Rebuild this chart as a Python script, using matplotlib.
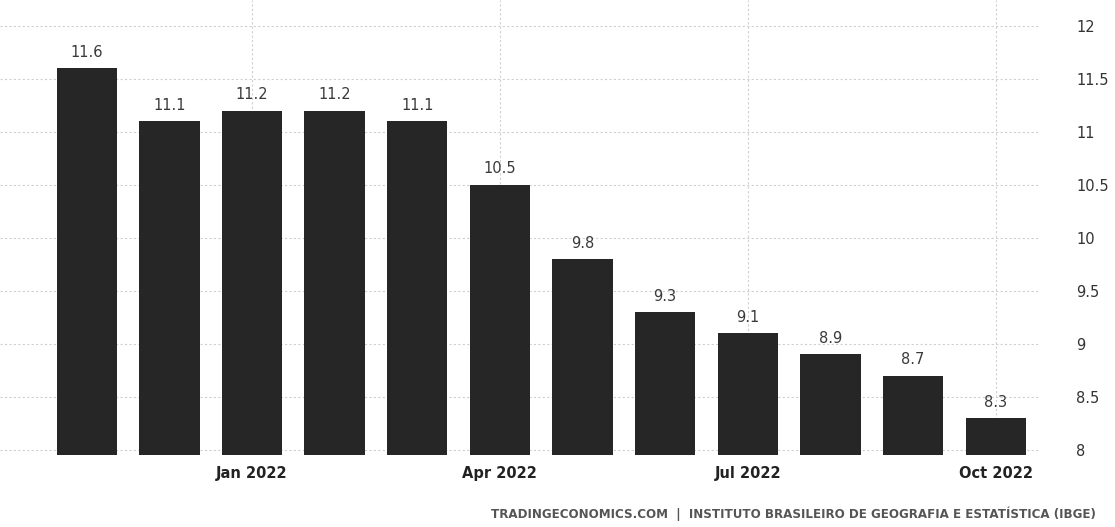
import numpy as np
import matplotlib
matplotlib.use("Agg")
from matplotlib import pyplot as plt

# Brazil unemployment rate, Nov 2021 - Oct 2022
months = ["Nov 2021", "Dec 2021", "Jan 2022", "Feb 2022", "Mar 2022", "Apr 2022",
          "May 2022", "Jun 2022", "Jul 2022", "Aug 2022", "Sep 2022", "Oct 2022"]
values = [11.6, 11.1, 11.2, 11.2, 11.1, 10.5, 9.8, 9.3, 9.1, 8.9, 8.7, 8.3]
shown_ticks = ["Jan 2022", "Apr 2022", "Jul 2022", "Oct 2022"]
y_ticks = [8, 8.5, 9, 9.5, 10, 10.5, 11, 11.5, 12]
source = "TRADINGECONOMICS.COM  |  INSTITUTO BRASILEIRO DE GEOGRAFIA E ESTATÍSTICA (IBGE)"

fig = plt.figure(figsize=(11.15, 5.27), dpi=100)
ax = fig.add_axes([0.0, 0.137, 0.933, 0.863])

x = np.arange(len(months))
bottom = 7.953
ax.bar(x, np.array(values) - bottom, bottom=bottom, width=0.73,
       color="#262626", zorder=3)

for xi, v in zip(x, values):
    ax.text(xi, v + 0.08, f"{v:g}", ha="center", va="bottom",
            fontsize=10.5, color="#3a3a3a", zorder=4)

ax.set_xlim(-1.05, 11.54)
ax.set_ylim(bottom, 12.245)

tick_pos = [months.index(m) for m in shown_ticks]
ax.set_xticks(tick_pos)
ax.set_xticklabels(shown_ticks, fontsize=10.5, color="#222222", fontweight="semibold")
ax.tick_params(axis="x", length=0, pad=8)

ax.yaxis.tick_right()
ax.set_yticks(y_ticks)
ax.set_yticklabels([f"{t:g}" for t in y_ticks], fontsize=10.5, color="#333333")
ax.tick_params(axis="y", length=0, pad=26)

ax.grid(True, color="#d0d0d0", linestyle=(0, (2, 2)), linewidth=0.8, zorder=0)
for s in ax.spines.values():
    s.set_visible(False)

fig.text(0.983, 0.012, source, ha="right", va="bottom", fontsize=8.6,
         color="#555555", fontweight="semibold")

fig.savefig("out.png", dpi=100, facecolor="white")
